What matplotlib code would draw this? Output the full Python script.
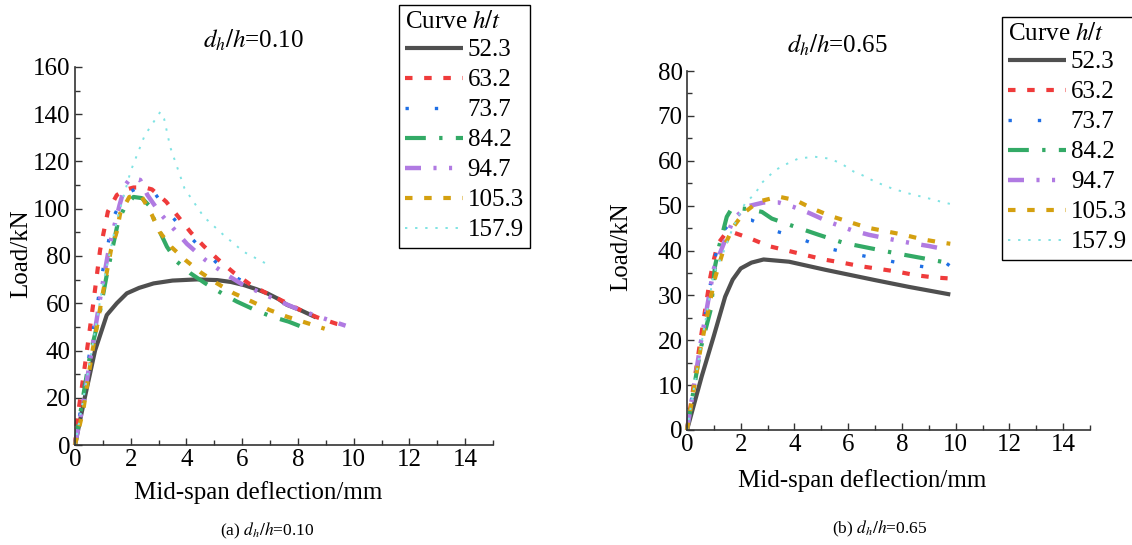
import matplotlib
matplotlib.use("Agg")
import matplotlib.pyplot as plt
from matplotlib.ticker import MultipleLocator

plt.rcParams["font.family"] = ["Liberation Serif", "DejaVu Serif"]
plt.rcParams["mathtext.fontset"] = "stix"

# ---- series labels (h/t) ----
labels = ["52.3", "63.2", "73.7", "84.2", "94.7", "105.3", "157.9"]

# ---- (a) d_h/h = 0.10 : load (kN) vs mid-span deflection (mm) ----
a_x_523 = [0, 0.35, 0.72, 1.14, 1.5, 1.86, 2.3, 2.82, 3.5, 4.38, 5.1, 5.6, 6.06, 6.5, 6.9, 7.3, 7.61, 8.09, 8.65]
a_y_523 = [0, 20, 40, 55, 60, 64.2, 66.5, 68.4, 69.6, 70.1, 69.8, 69.0, 67.7, 66.0, 64.2, 61.8, 59.3, 57.1, 54.0]
a_x_632 = [0, 0.06, 0.36, 0.64, 0.9, 1.18, 1.5, 1.8, 2.1, 2.5, 2.76, 3.27, 3.72, 4.16, 4.62, 5.13, 5.7, 6.27, 6.83, 7.5, 8.09, 8.7, 9.41, 9.71]
a_y_632 = [0, 9, 34, 58.5, 82.5, 98.8, 105.8, 108, 109, 109, 108.2, 103, 96.4, 89.9, 84.2, 78.6, 72.9, 68.1, 64.5, 60.7, 57.1, 54, 51.2, 50.5]
a_x_737 = [0, 0.4, 0.7, 1.02, 1.38, 1.8, 2.2, 2.7, 3.2, 3.78, 4.41, 5.1, 5.87, 6.0]
a_y_737 = [0, 30, 52, 75.5, 96.6, 106.2, 108.5, 109.3, 100.9, 92.4, 84.7, 76.9, 70.3, 69.5]
a_x_842 = [0, 0.54, 0.84, 1.14, 1.56, 1.8, 2.1, 2.4, 2.64, 2.76, 3.3, 3.66, 4.14, 4.68, 5.27, 5.81, 6.47, 7.07, 7.67, 8.27]
a_y_842 = [0, 38, 53, 72, 95.2, 101, 105, 104.5, 101.6, 97.4, 83.9, 77.6, 72.7, 68.4, 64.2, 60.7, 57.1, 54.3, 52.2, 49.4]
a_x_947 = [0, 0.3, 0.6, 0.9, 1.24, 1.6, 1.8, 2.0, 2.34, 2.6, 3.06, 3.63, 4.02, 4.68, 5.4, 6.0, 6.71, 7.5, 8.2, 8.93, 9.71]
a_y_947 = [0, 18, 40, 62, 84.7, 101.6, 110, 113, 112.2, 105.8, 98, 90.3, 85.1, 78.3, 72.4, 68, 64.2, 60, 56.5, 53.6, 50.5]
a_x_1053 = [0, 0.3, 0.6, 1.02, 1.29, 1.5, 1.62, 1.95, 2.2, 2.4, 2.76, 3.03, 3.45, 3.96, 4.53, 5.1, 5.7, 6.35, 6.99, 7.61, 8.28, 8.96]
a_y_1053 = [0, 15, 38, 65.6, 82.5, 90.3, 98, 105, 105.5, 105, 97.4, 90.3, 83.9, 78.3, 72.9, 68.4, 64.2, 60.7, 57.1, 54.3, 51.8, 49.2]
a_x_1579 = [0, 0.5, 1.0, 1.5, 2.0, 2.5, 3.06, 3.2, 3.42, 3.93, 4.62, 5.33, 6.05, 6.95]
a_y_1579 = [0, 33, 68, 95, 116, 131, 141, 138, 126, 108.6, 96.6, 88.9, 81.8, 76.2]

# ---- (b) d_h/h = 0.65 ----
b_x_523 = [0, 0.55, 1.0, 1.42, 1.7, 2.0, 2.4, 2.85, 3.8, 5.15, 7.0, 8.25, 9.8]
b_y_523 = [0, 12, 21, 29.7, 33.5, 36, 37.3, 38, 37.5, 35.7, 33.4, 31.9, 30.2]
b_x_632 = [0, 0.5, 0.86, 1.0, 1.15, 1.4, 1.73, 2.35, 3.03, 3.72, 4.4, 5.09, 5.77, 6.46, 7.14, 7.82, 8.51, 9.19, 9.7]
b_y_632 = [0, 20, 33.8, 38, 41.5, 43.5, 44, 42.7, 41, 40, 39, 38, 37.3, 36.5, 35.9, 35.3, 34.5, 34, 33.8]
b_x_737 = [0, 0.5, 1.0, 1.23, 1.6, 2.0, 2.39, 3.26, 4.15, 5.02, 5.96, 6.83, 7.76, 8.67, 9.57, 9.8]
b_y_737 = [0, 19.5, 37, 43.6, 46, 46.8, 46.8, 44.4, 42.8, 40.8, 39.5, 38.5, 37.4, 36.5, 35.7, 37.5]
b_x_842 = [0, 0.5, 0.89, 1.04, 1.2, 1.48, 1.65, 2.0, 2.3, 2.79, 3.16, 3.97, 4.9, 5.83, 6.83, 7.76, 8.76, 9.13, 9.75]
b_y_842 = [0, 18, 27, 36.4, 41, 47.5, 49.2, 49.4, 49.2, 48.6, 47.1, 45.4, 43.5, 41.7, 40.5, 39.4, 38.3, 37.9, 37.2]
b_x_947 = [0, 0.5, 1.0, 1.42, 1.73, 2.22, 2.85, 3.41, 3.97, 4.53, 5.27, 6.14, 6.77, 7.51, 8.38, 9.0, 9.75]
b_y_947 = [0, 19, 36, 42.3, 47, 49.8, 50.7, 50.7, 49.7, 48.4, 46.4, 44.5, 43.5, 42.6, 41.6, 41, 40.1]
b_x_1053 = [0, 0.5, 1.02, 1.42, 1.73, 2.1, 2.66, 3.41, 4.05, 4.65, 5.34, 6.02, 6.71, 7.39, 8.07, 8.76, 9.44, 9.8]
b_y_1053 = [0, 18, 33.4, 41.4, 45.3, 48.3, 50.9, 52, 51.2, 49.4, 47.7, 46.4, 45.1, 44.3, 43.5, 42.5, 41.8, 41.5]
b_x_1579 = [0, 0.5, 1.0, 1.29, 1.7, 2.16, 2.54, 2.79, 3.28, 3.78, 4.15, 4.75, 5.27, 5.71, 6.2, 6.52, 7.01, 7.64, 8.26, 9.0, 9.5, 9.85]
b_y_1579 = [0, 18, 35, 38.6, 45, 50.5, 52.7, 55.1, 57.9, 59.5, 60.5, 60.9, 60.5, 59.5, 57.6, 56.8, 55.3, 53.8, 52.7, 51.6, 50.8, 50.3]

panel_a = [(a_x_523, a_y_523), (a_x_632, a_y_632), (a_x_737, a_y_737), (a_x_842, a_y_842),
           (a_x_947, a_y_947), (a_x_1053, a_y_1053), (a_x_1579, a_y_1579)]
panel_b = [(b_x_523, b_y_523), (b_x_632, b_y_632), (b_x_737, b_y_737), (b_x_842, b_y_842),
           (b_x_947, b_y_947), (b_x_1053, b_y_1053), (b_x_1579, b_y_1579)]

# line styles per series: colour, width (pt), dash pattern (None = solid)
styles = [
    dict(color="#4f4f4f", lw=3.0, dashes=None),
    dict(color="#ef3b3b", lw=3.0, dashes=(1.8, 2.8)),
    dict(color="#1f6fe5", lw=2.4, dashes=(1.0, 7.8)),
    dict(color="#33aa66", lw=3.0, dashes=(5.0, 3.2, 0.8, 3.2)),
    dict(color="#b07ae2", lw=3.2, dashes=(3.6, 2.8, 0.7, 2.8, 0.7, 2.8)),
    dict(color="#d4a010", lw=3.0, dashes=(1.8, 2.8)),
    dict(color="#7fe3e3", lw=1.4, dashes=(1.2, 4.0)),
]

W, H = 1132, 545
fig = plt.figure(figsize=(W / 100, H / 100), dpi=100)


def frac_box(left, top, right, bottom):
    return [left / W, 1 - bottom / H, (right - left) / W, (bottom - top) / H]


def setup(ax, ymax, ymajor, yminor):
    ax.set_xlim(0, 15)
    ax.set_ylim(0, ymax)
    ax.xaxis.set_major_locator(MultipleLocator(2))
    ax.xaxis.set_minor_locator(MultipleLocator(1))
    ax.yaxis.set_major_locator(MultipleLocator(ymajor))
    ax.yaxis.set_minor_locator(MultipleLocator(yminor))
    ax.set_xticks([0, 2, 4, 6, 8, 10, 12, 14])
    for s in ("top", "right"):
        ax.spines[s].set_visible(False)
    for s in ("left", "bottom"):
        ax.spines[s].set_color("#333333")
        ax.spines[s].set_linewidth(1.2)
    ax.tick_params(which="both", direction="in", colors="#333333", labelcolor="black",
                   labelsize=18, width=1.0)
    ax.tick_params(which="major", length=5)
    ax.tick_params(which="minor", length=3.5)
    ax.tick_params(axis="x", pad=3)
    ax.tick_params(axis="y", pad=3)


def draw(ax, data):
    handles = []
    for (xs, ys), st, lab in zip(data, styles, labels):
        kw = dict(color=st["color"], lw=st["lw"], solid_capstyle="butt", dash_capstyle="butt",
                  solid_joinstyle="round", clip_on=False, label=lab)
        if st["dashes"] is None:
            (ln,) = ax.plot(xs, ys, **kw)
        else:
            (ln,) = ax.plot(xs, ys, dashes=st["dashes"], **kw)
        handles.append(ln)
    return handles


def add_legend(ax, handles, left, top):
    leg = ax.legend(handles, labels, loc="upper left",
                    bbox_to_anchor=(left / W, 1 - top / H), bbox_transform=fig.transFigure,
                    borderaxespad=0, fancybox=False, framealpha=1, edgecolor="black",
                    title="Curve $h/t$", alignment="left", fontsize=18, title_fontsize=18,
                    handlelength=2.3, handletextpad=0.2, borderpad=0.25,
                    labelspacing=0.3)
    leg.get_frame().set_linewidth(1.0)
    leg._legend_box.sep = 4
    return leg


# panel (a)
ax1 = fig.add_axes(frac_box(75, 67, 493, 445))
setup(ax1, 160, 20, 10)
h1 = draw(ax1, panel_a)
ax1.set_xlabel("Mid-span deflection/mm", fontsize=18)
ax1.xaxis.set_label_coords(0.438, -0.095)
ax1.set_ylabel("Load/kN", fontsize=18)
ax1.yaxis.set_label_coords(-0.103, 0.505)
add_legend(ax1, h1, 399, 5)
fig.text(253 / W, 1 - 40 / H, r"$d_h/h$=0.10", fontsize=18, ha="center", va="center")
fig.text(267 / W, 1 - 531 / H, r"(a) $d_h/h$=0.10", fontsize=12.5, ha="center", va="center")

# panel (b)
ax2 = fig.add_axes(frac_box(687, 71, 1090, 430))
setup(ax2, 80, 10, 5)
h2 = draw(ax2, panel_b)
ax2.set_xlabel("Mid-span deflection/mm", fontsize=18)
ax2.xaxis.set_label_coords(0.434, -0.108)
ax2.set_ylabel("Load/kN", fontsize=18)
ax2.yaxis.set_label_coords(-0.136, 0.51)
add_legend(ax2, h2, 1002, 17)
fig.text(837 / W, 1 - 45 / H, r"$d_h/h$=0.65", fontsize=18, ha="center", va="center")
fig.text(880 / W, 1 - 529 / H, r"(b) $d_h/h$=0.65", fontsize=12.5, ha="center", va="center")

fig.savefig("out.png", dpi=100)
